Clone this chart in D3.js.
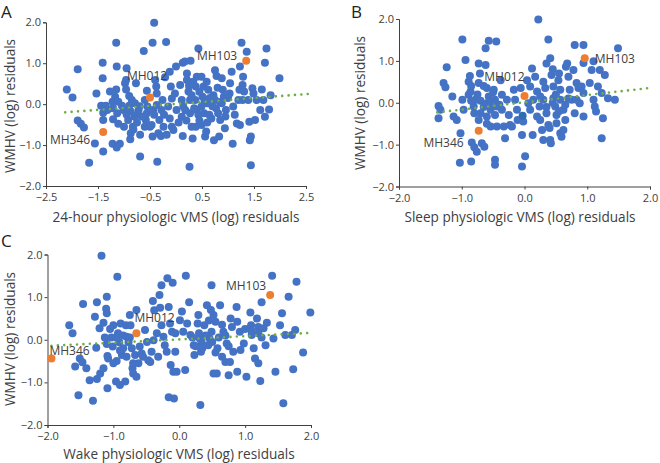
<!DOCTYPE html>
<html><head><meta charset="utf-8">
<script src="https://cdn.jsdelivr.net/npm/d3@7"></script>
<style>
html,body{margin:0;padding:0;background:#fff;}
svg{display:block;font-family:"Open Sans",sans-serif;}
</style></head>
<body><div id="chart"></div>
<script>
// ---------- DATA ----------
const panelLetters = ["A", "B", "C"];
const yTitle = "WMHV (log) residuals";
const xTitles = ["24-hour physiologic VMS (log) residuals", "Sleep physiologic VMS (log) residuals", "Wake physiologic VMS (log) residuals"];
const yTicks = [-2, -1, 0, 1, 2];
const xTicksA = [-2.5, -1.5, -0.5, 0.5, 1.5, 2.5];
const xTicksBC = [-2, -1, 0, 1, 2];
const highlightIds = ["MH346", "MH012", "MH103"];

const aPoints = [[-2.10,0.36],[-1.99,0.16],[-1.89,0.85],[-1.89,-0.40],[-1.83,-0.48],[-1.77,-0.57],[-1.67,-1.43],[-1.56,-0.96],[-1.53,0.26],[-1.41,1.01],[-1.41,0.63],[-1.44,-0.04],[-1.35,-0.04],[-1.40,-0.21],[-1.40,-0.39],[-1.40,-1.16],[-1.32,-0.14],[-1.15,1.50],[-1.14,0.92],[-1.15,0.36],[-1.17,0.18],[-1.22,0.06],[-1.11,0.06],[-1.21,-0.10],[-1.13,-0.22],[-1.21,-0.37],[-1.11,-0.48],[-1.22,-0.97],[-1.14,-1.06],[-1.08,-0.97],[-1.27,0.31],[-1.04,-0.04],[-1.01,-0.14],[-0.95,0.88],[-0.96,0.59],[-0.98,0.51],[-0.96,0.36],[-0.90,-0.04],[-0.87,-0.18],[-0.92,-0.39],[-0.83,-0.55],[-0.87,-0.71],[-0.88,-0.86],[-0.77,0.51],[-0.79,0.02],[-0.72,-0.14],[-0.74,-0.26],[-0.69,-0.75],[-0.82,-0.62],[-0.85,0.10],[-0.69,-1.28],[-0.62,1.30],[-0.56,0.33],[-0.60,0.10],[-0.55,-0.06],[-0.56,-0.22],[-0.58,-0.39],[-0.50,-0.55],[-0.45,1.50],[-0.42,1.99],[-0.40,0.59],[-0.38,0.43],[-0.37,0.26],[-0.44,-0.14],[-0.42,-0.26],[-0.47,-0.51],[-0.45,-0.79],[-0.36,-1.41],[-0.34,-0.71],[-0.32,-0.39],[-0.37,-0.02],[-0.19,1.52],[-0.21,0.66],[-0.26,0.10],[-0.28,-0.14],[-0.23,-0.26],[-0.24,-0.55],[-0.29,-0.78],[-0.18,-0.75],[-0.12,0.79],[-0.10,0.43],[-0.08,0.14],[-0.15,-0.06],[-0.12,-0.35],[-0.08,-0.55],[-0.05,-0.63],[0.00,0.92],[-0.02,0.26],[0.01,-0.14],[0.13,1.01],[0.17,1.04],[0.21,0.75],[0.08,0.47],[0.11,0.10],[0.14,-0.06],[0.11,-0.31],[0.13,-0.78],[0.26,-1.53],[0.21,0.59],[0.24,0.31],[0.27,0.10],[0.27,-0.22],[0.30,-0.55],[0.32,-0.84],[0.28,1.06],[0.43,1.36],[0.40,0.67],[0.38,0.43],[0.37,0.10],[0.40,-0.14],[0.43,-0.26],[0.38,-0.55],[0.49,0.67],[0.53,0.43],[0.51,0.18],[0.49,-0.06],[0.54,-0.22],[0.49,-0.51],[0.58,-0.67],[0.59,0.55],[0.62,0.35],[0.60,0.02],[0.64,-0.26],[0.56,-0.79],[0.75,0.83],[0.78,0.69],[0.72,0.22],[0.75,0.10],[0.77,-0.10],[0.81,-0.22],[0.85,-0.39],[0.73,-0.88],[0.83,-0.79],[0.88,0.63],[0.90,0.35],[0.92,0.18],[0.88,0.02],[0.96,-0.14],[0.94,-0.59],[1.04,0.51],[1.03,0.26],[1.10,-0.06],[1.07,0.79],[1.13,-0.26],[1.20,0.10],[1.22,0.35],[1.23,0.92],[1.17,-0.47],[1.09,-0.97],[1.26,1.50],[1.29,0.67],[1.31,0.31],[1.28,0.10],[1.23,-0.51],[1.28,0.47],[1.36,1.28],[1.39,0.10],[1.41,-0.43],[1.44,-0.79],[1.42,-0.88],[1.44,-1.49],[1.47,0.39],[1.49,0.26],[1.52,-0.39],[1.55,0.10],[1.65,0.36],[1.71,1.01],[1.74,1.36],[1.68,0.10],[1.62,-0.14],[1.71,-0.31],[1.79,-0.13],[1.82,0.22],[1.99,0.63],[0.25,0.45],[0.33,0.55],[0.45,0.30],[0.55,0.05],[0.65,0.15],[0.70,-0.05],[0.35,-0.10],[0.45,-0.40],[0.60,-0.45],[0.68,-0.35],[0.80,0.40],[0.85,0.05],[0.30,0.22],[0.18,-0.15],[0.05,-0.45],[0.20,-0.40],[0.95,-0.30],[1.00,0.15],[-0.95,-0.25],[-0.80,-0.30],[-0.65,-0.30],[-0.70,-0.05],[-0.60,-0.55],[-0.75,-0.45],[-1.00,-0.55],[-0.90,0.20]];
const aHighlight = [[-1.40,-0.68],[-0.50,0.16],[1.35,1.06]];
const aTrend = [[-2.13,-0.20],[2.54,0.25]];

const bPoints = [[-1.37,-0.08],[-1.34,-0.17],[-1.37,-0.37],[-1.29,0.47],[-1.26,0.37],[-1.24,0.85],[-1.15,0.15],[-1.13,-0.33],[-1.08,-0.41],[-1.03,-1.43],[-0.99,1.51],[-1.02,-0.73],[-0.97,-0.17],[-0.99,0.07],[-0.94,1.02],[-0.89,0.50],[-0.87,0.64],[-0.89,0.19],[-0.86,0.27],[-0.84,-0.95],[-0.85,-1.40],[-0.81,-0.09],[-0.78,0.07],[-0.80,-1.06],[-0.76,-1.17],[-0.73,0.94],[-0.71,0.70],[-0.73,0.47],[-0.73,-0.41],[-0.68,-0.97],[-0.64,-1.05],[-0.62,0.90],[-0.62,1.30],[-0.57,1.48],[-0.60,0.35],[-0.57,0.15],[-0.60,-0.01],[-0.54,-0.17],[-0.60,-0.33],[-0.54,-0.57],[-0.49,0.31],[-0.45,1.46],[-0.47,0.07],[-0.44,-0.09],[-0.47,-0.29],[-0.44,-0.57],[-0.47,-1.36],[-0.47,-1.48],[-0.38,0.54],[-0.36,0.19],[-0.36,-0.17],[-0.33,-0.57],[-0.31,-0.85],[-0.28,0.07],[-0.25,-0.29],[-0.23,-0.53],[-0.20,-0.57],[-0.17,0.31],[-0.15,0.07],[-0.12,-0.17],[-0.11,-0.41],[-0.06,0.35],[-0.04,-0.77],[-0.04,-1.52],[-0.02,-0.45],[0.01,-1.28],[0.04,0.54],[0.06,-0.01],[0.09,-0.17],[0.09,0.39],[0.12,0.82],[0.14,0.07],[0.13,-0.77],[0.17,0.62],[0.20,0.27],[0.20,-0.33],[0.22,1.99],[0.24,-0.09],[0.25,-0.41],[0.28,-0.65],[0.30,-0.89],[0.30,0.07],[0.33,0.35],[0.35,0.94],[0.38,1.51],[0.35,-0.25],[0.38,-0.53],[0.41,-0.89],[0.42,-0.97],[0.41,1.06],[0.43,0.66],[0.46,0.39],[0.46,0.11],[0.49,-0.09],[0.51,-0.29],[0.51,-0.49],[0.54,0.54],[0.57,0.31],[0.57,0.07],[0.57,-0.73],[0.59,-0.81],[0.62,-0.17],[0.65,-0.41],[0.66,0.86],[0.68,0.94],[0.70,0.62],[0.72,0.31],[0.75,0.07],[0.78,0.78],[0.80,-0.25],[0.83,0.47],[0.86,0.35],[0.83,0.07],[0.88,-0.01],[0.94,1.38],[0.80,1.38],[0.91,0.39],[0.94,0.23],[0.94,-0.33],[0.94,0.95],[1.10,0.99],[1.07,0.78],[1.04,0.47],[1.10,0.07],[1.12,-0.09],[1.14,-0.21],[1.17,0.39],[1.23,0.23],[1.20,0.78],[1.25,-0.37],[1.23,-0.85],[1.28,0.66],[1.44,0.07],[1.49,1.30],[1.33,0.11],[-0.85,0.05],[-0.75,0.20],[-0.70,0.05],[-0.65,-0.10],[-0.55,0.00],[-0.50,0.25],[-0.80,-0.25],[-0.70,-0.25],[-0.60,-0.50],[-0.40,-0.05],[-0.85,0.40],[-0.65,0.40],[0.30,0.50],[0.45,0.00],[0.55,-0.20],[0.65,-0.05],[0.35,-0.10],[0.50,0.20],[0.70,0.10],[0.40,-0.60],[0.62,-0.65],[0.25,0.15],[0.55,0.70],[0.45,0.80]];
const bMarked = [[-0.03,-0.31]];
const bHighlight = [[-0.73,-0.67],[0.00,0.16],[0.96,1.06]];
const bTrend = [[-1.39,-0.23],[1.97,0.35]];

const cPoints = [[-1.67,0.34],[-1.62,0.15],[-1.58,-0.63],[-1.53,-1.30],[-1.51,-0.44],[-1.47,-0.53],[-1.46,0.84],[-1.41,-0.67],[-1.36,-0.95],[-1.31,-1.43],[-1.28,0.54],[-1.26,-0.19],[-1.25,0.88],[-1.25,-0.92],[-1.21,0.27],[-1.18,1.97],[-1.20,-0.79],[-1.15,-0.67],[-1.11,0.73],[-1.10,1.01],[-1.10,0.62],[-1.13,0.05],[-1.09,-0.38],[-1.09,-1.14],[-1.08,-0.44],[-1.03,0.05],[-1.01,-0.16],[-1.00,-0.55],[-1.00,0.34],[-0.96,-0.98],[-0.94,1.48],[-0.93,0.15],[-0.91,-0.06],[-0.90,-1.06],[-0.89,0.38],[-0.87,-0.36],[-0.85,-0.20],[-0.82,-0.98],[-0.81,0.34],[-0.80,0.07],[-0.77,-0.06],[-0.75,0.58],[-0.74,0.34],[-0.72,-0.20],[-0.71,-0.67],[-0.70,-0.79],[-0.67,-0.36],[-0.65,0.70],[-0.65,-0.87],[-0.62,-0.55],[-0.60,-0.16],[-0.57,-0.32],[-0.55,-0.40],[-0.52,0.23],[-0.49,-0.05],[-0.47,-0.48],[-0.44,-0.52],[-0.42,-0.28],[-0.40,0.91],[-0.39,-0.01],[-0.38,0.69],[-0.34,0.15],[-0.32,-0.40],[-0.30,1.05],[-0.29,0.75],[-0.27,0.34],[-0.27,1.28],[-0.24,0.07],[-0.22,-0.13],[-0.19,-0.28],[-0.18,1.44],[-0.16,-1.35],[-0.16,0.77],[-0.14,0.38],[-0.13,-0.59],[-0.11,0.19],[-0.10,1.34],[-0.09,-0.75],[-0.08,-1.38],[-0.06,-0.28],[-0.06,0.15],[-0.04,-0.75],[0.01,0.46],[0.04,0.66],[0.06,0.19],[0.09,-0.71],[0.10,1.50],[0.12,0.38],[0.15,0.88],[0.17,0.11],[0.22,-0.13],[0.23,-0.36],[0.28,0.38],[0.29,0.58],[0.31,0.03],[0.32,-1.53],[0.33,-0.28],[0.34,-0.05],[0.38,0.34],[0.42,0.81],[0.44,-0.13],[0.46,0.03],[0.48,0.70],[0.49,1.28],[0.49,0.19],[0.52,0.58],[0.52,-0.79],[0.55,0.42],[0.57,-0.79],[0.58,-0.20],[0.62,0.81],[0.65,-0.40],[0.67,0.19],[0.70,-0.52],[0.72,-0.09],[0.75,-0.83],[0.77,-0.52],[0.78,0.50],[0.80,0.30],[0.82,-0.28],[0.87,0.77],[0.88,0.42],[0.88,-0.75],[0.92,0.19],[0.93,-0.24],[0.98,-0.09],[1.02,-0.87],[1.08,0.64],[1.09,0.34],[1.10,0.11],[1.13,-0.20],[1.15,-0.44],[1.18,0.50],[1.20,0.30],[1.20,-0.55],[1.23,-0.97],[1.25,0.88],[1.28,0.27],[1.31,-0.13],[1.33,0.40],[1.41,1.50],[1.43,0.03],[1.46,-0.75],[1.53,0.34],[1.56,0.62],[1.58,-1.49],[1.61,0.11],[1.66,1.01],[1.71,0.11],[1.73,-0.69],[1.78,1.36],[1.76,0.23],[1.88,-0.30],[1.99,0.64],[-1.15,0.40],[-1.05,0.25],[-0.95,0.05],[-0.85,0.10],[-0.75,0.05],[-1.10,-0.10],[-0.90,-0.25],[-0.80,-0.40],[-0.70,-0.55],[-0.95,-0.50],[0.20,0.05],[0.30,0.15],[0.40,0.10],[0.50,-0.05],[0.60,0.05],[0.70,0.10],[0.35,-0.20],[0.55,-0.30],[0.25,-0.15],[0.45,0.45],[0.65,0.35],[0.75,-0.15],[1.10,0.20],[1.20,0.15],[1.25,0.05],[1.00,0.25]];
const cHighlight = [[-1.94,-0.44],[-0.65,0.15],[1.38,1.05]];
const cTrend = [[-1.94,-0.14],[1.99,0.16]];

// ---------- LAYOUT ----------
const W = 660, H = 463;
const panels = [
  {letter: panelLetters[0], pts: aPoints, marked: [], hi: aHighlight, trend: aTrend, xTicks: xTicksA, xDom: [-2.5, 2.5], xt: xTitles[0],
   left: 46, right: 306, top: 22.3, bottom: 186, letterPos: [1, 18.3], yTitlePos: [10, 106], xTitlePos: [176, 221.5],
   lab: [{dx: -13, dy: 12, a: "end"}, {dx: -3, dy: -18, a: "middle"}, {dx: -9, dy: -1, a: "end"}]},
  {letter: panelLetters[1], pts: bPoints, marked: bMarked, hi: bHighlight, trend: bTrend, xTicks: xTicksBC, xDom: [-2, 2], xt: xTitles[1],
   left: 399, right: 650, top: 19, bottom: 186.5, letterPos: [351, 18.3], yTitlePos: [360, 103], xTitlePos: [520, 221.5],
   lab: [{dx: -15, dy: 16, a: "end"}, {dx: 0, dy: -15, a: "end"}, {dx: 10, dy: 5, a: "start"}]},
  {letter: panelLetters[2], pts: cPoints, marked: [], hi: cHighlight, trend: cTrend, xTicks: xTicksBC, xDom: [-2, 2], xt: xTitles[2],
   left: 47.5, right: 311, top: 254.5, bottom: 425, letterPos: [1, 246.5], yTitlePos: [10, 339], xTitlePos: [179, 458.5],
   lab: [{dx: -2, dy: -4, a: "start"}, {dx: -2, dy: -11, a: "start"}, {dx: -4, dy: -5, a: "end"}]}
];

const BLUE = "#4472C4", ORANGE = "#ED7D31", GREEN = "#70AD47", MARKED = "#2E6DB4";
const TXT = "#404040", AX = "#404040";

const svg = d3.select("#chart").append("svg").attr("width", W).attr("height", H);
const fmt = d3.format(".1f");

panels.forEach(p => {
  const x = d3.scaleLinear().domain(p.xDom).range([p.left, p.right]);
  const y = d3.scaleLinear().domain([-2, 2]).range([p.bottom, p.top]);
  const g = svg.append("g");

  // axes
  const xa = g.append("g").attr("transform", `translate(0,${p.bottom})`)
    .call(d3.axisBottom(x).tickValues(p.xTicks).tickSize(3).tickPadding(4.5).tickFormat(fmt));
  const ya = g.append("g").attr("transform", `translate(${p.left},0)`)
    .call(d3.axisLeft(y).tickValues(yTicks).tickSize(3).tickPadding(2).tickFormat(fmt));
  [xa, ya].forEach(a => {
    a.select(".domain").attr("stroke", AX).attr("stroke-width", 1);
    a.selectAll(".tick line").attr("stroke", AX);
    a.selectAll(".tick text").attr("fill", TXT).style("font-size", "11px").style("font-family", "'Open Sans'");
  });

  // points
  g.append("g").selectAll("circle").data(p.pts).join("circle")
    .attr("cx", d => x(d[0])).attr("cy", d => y(d[1])).attr("r", 4).attr("fill", BLUE);
  g.append("g").selectAll("circle").data(p.marked).join("circle")
    .attr("cx", d => x(d[0])).attr("cy", d => y(d[1])).attr("r", 4).attr("fill", MARKED);
  g.append("g").selectAll("circle").data(p.hi).join("circle")
    .attr("cx", d => x(d[0])).attr("cy", d => y(d[1])).attr("r", 4).attr("fill", ORANGE);

  // trend line (dotted)
  g.append("path").datum(p.trend)
    .attr("d", d3.line().x(d => x(d[0])).y(d => y(d[1])))
    .attr("fill", "none").attr("stroke", GREEN).attr("stroke-width", 2.6)
    .attr("stroke-linecap", "round").attr("stroke-dasharray", "0 6.4");

  // highlight labels
  p.hi.forEach((d, i) => {
    const l = p.lab[i];
    g.append("text").attr("x", x(d[0]) + l.dx).attr("y", y(d[1]) + l.dy)
      .attr("text-anchor", l.a).attr("fill", TXT).style("font-size", "12px")
      .text(highlightIds[i]);
  });

  // titles
  g.append("text").attr("x", p.xTitlePos[0]).attr("y", p.xTitlePos[1]).attr("text-anchor", "middle")
    .attr("fill", TXT).style("font-size", "13.6px").text(p.xt);
  g.append("text").attr("transform", `translate(${p.yTitlePos[0]},${p.yTitlePos[1]}) rotate(-90)`)
    .attr("text-anchor", "middle").attr("dy", "0.35em")
    .attr("fill", TXT).style("font-size", "13.6px").text(yTitle);
  g.append("text").attr("x", p.letterPos[0]).attr("y", p.letterPos[1])
    .attr("fill", "#222").style("font-size", "17px").text(p.letter);
});
</script></body></html>
